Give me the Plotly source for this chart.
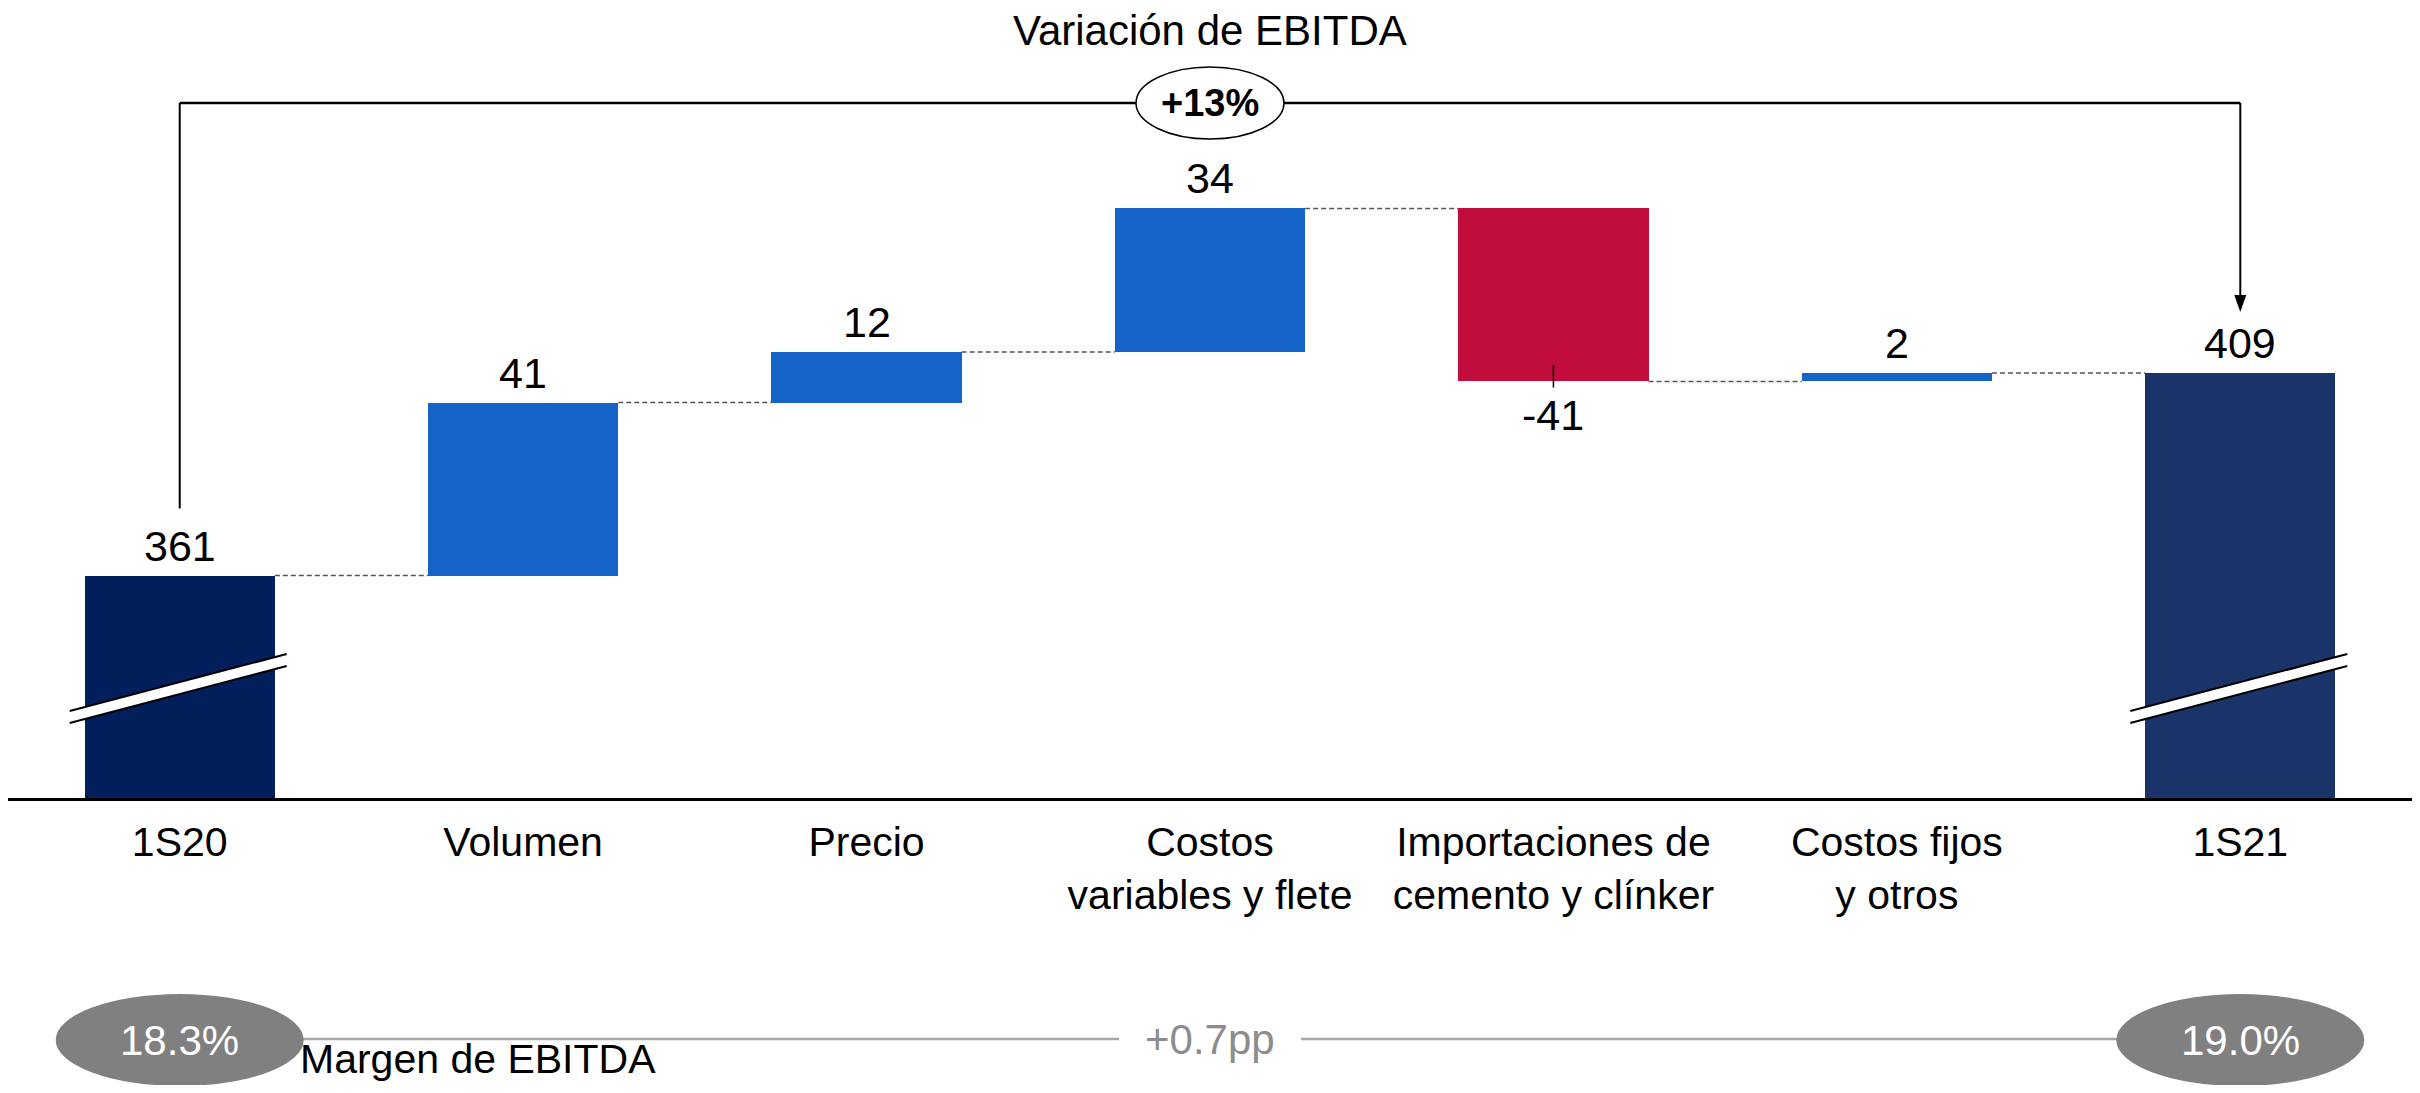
import plotly.graph_objects as go

# ---------------- data ----------------
CATEGORIES = ["1S20", "Volumen", "Precio", "Costos<br>variables y flete",
              "Importaciones de<br>cemento y clínker", "Costos fijos<br>y otros", "1S21"]
START_VALUE = 361
STEP_VALUES = [41, 12, 34, -41, 2]
END_VALUE = 409
VALUE_LABELS = ["361", "41", "12", "34", "-41", "2", "409"]
TITLE = "Variación de EBITDA"
GROWTH_LABEL = "+13%"
MARGIN_START = "18.3%"
MARGIN_END = "19.0%"
MARGIN_DELTA = "+0.7pp"
MARGIN_LABEL = "Margen de EBITDA"

# ---------------- style / layout ----------------
FONT = "Liberation Sans, Arial, sans-serif"
C_START = "#021F5C"
C_END = "#1A3369"
C_UP = "#1464C8"
C_DOWN = "#C00D3C"
C_GREY = "#808080"

PAGE_OFF = 8                      # default body margin of the html page
W, H = 2404, 1077
ML, MR, MT = 0, 0, 0
BASE_PAGE_Y = 798                 # page row of the x axis line
PLOT_H = BASE_PAGE_Y - PAGE_OFF - MT
MB = H - MT - PLOT_H
PX_PER_UNIT = 4.22
UNIT_PER_PX = 1 / PX_PER_UNIT
Y_MIN = 308.3                     # truncated value axis
Y_MAX = Y_MIN + PLOT_H * UNIT_PER_PX
BAR_W = 0.554


def y_from_px(py):
    """data y for a page pixel row inside the plot area"""
    return Y_MIN + (BASE_PAGE_Y - py) * UNIT_PER_PX


def paper_from_px(py):
    return (BASE_PAGE_Y - py) / PLOT_H


# ---------------- build bars ----------------
n = len(CATEGORIES)
xs = list(range(n))
bases = [Y_MIN]
heights = [START_VALUE - Y_MIN]
colors = [C_START]
levels = [START_VALUE]
cum = START_VALUE
for s in STEP_VALUES:
    bases.append(cum)
    heights.append(s)
    colors.append(C_UP if s >= 0 else C_DOWN)
    cum += s
    levels.append(cum)
bases.append(Y_MIN)
heights.append(END_VALUE - Y_MIN)
colors.append(C_END)

fig = go.Figure()
fig.add_trace(go.Bar(x=xs, y=heights, base=bases, width=BAR_W,
                     marker=dict(color=colors, line=dict(width=0)),
                     hoverinfo="skip", showlegend=False))

# connectors
cx, cy = [], []
for i, lv in enumerate(levels):
    cx += [i + BAR_W / 2, i + 1 - BAR_W / 2, None]
    cy += [lv, lv, None]
fig.add_trace(go.Scatter(x=cx, y=cy, mode="lines",
                         line=dict(color="#555555", width=1.5, dash="5px,3px"),
                         hoverinfo="skip", showlegend=False))

annotations = []
shapes = []

# value labels
for i in range(n):
    top = bases[i] + heights[i]
    neg = heights[i] < 0 and 0 < i < n - 1
    annotations.append(dict(x=i, y=top, xref="x", yref="y", text=VALUE_LABELS[i],
                            showarrow=False, yanchor="middle", xanchor="center",
                            yshift=(-34 if neg else 30),
                            font=dict(family=FONT, size=43, color="black")))
    if neg:
        shapes.append(dict(type="line", xref="x", yref="y", x0=i, x1=i,
                           ysizemode="pixel", yanchor=top, y0=-6, y1=16,
                           line=dict(color="black", width=1.5), layer="above"))

# axis break marks on the two total bars
for i in (0, n - 1):
    shapes.append(dict(type="path", xref="x", yref="y", xsizemode="pixel", ysizemode="pixel",
                       xanchor=i, yanchor=Y_MIN,
                       path="M-110,75 L107,132 L107,144 L-110,87 Z",
                       fillcolor="white", line=dict(width=0), layer="above"))
    for p in ("M-110,75 L107,132", "M-110,87 L107,144"):
        shapes.append(dict(type="path", xref="x", yref="y", xsizemode="pixel", ysizemode="pixel",
                           xanchor=i, yanchor=Y_MIN, path=p,
                           line=dict(color="black", width=2), layer="above"))

# growth bracket
BR_Y = y_from_px(103)
left_end = START_VALUE + 67 * UNIT_PER_PX
tip = END_VALUE + 61 * UNIT_PER_PX
shapes.append(dict(type="line", xref="x", yref="y", x0=0, x1=n - 1, y0=BR_Y, y1=BR_Y,
                   line=dict(color="black", width=2.5), layer="above"))
shapes.append(dict(type="line", xref="x", yref="y", x0=0, x1=0, y0=BR_Y, y1=left_end,
                   line=dict(color="black", width=2), layer="above"))
shapes.append(dict(type="line", xref="x", yref="y", x0=n - 1, x1=n - 1, y0=BR_Y,
                   y1=tip + 15 * UNIT_PER_PX,
                   line=dict(color="black", width=2), layer="above"))
shapes.append(dict(type="path", xref="x", yref="y", xsizemode="pixel", ysizemode="pixel",
                   xanchor=n - 1, yanchor=tip, path="M-6,17 L6,17 L0,0 Z",
                   fillcolor="black", line=dict(width=0), layer="above"))
mid = (n - 1) / 2
shapes.append(dict(type="circle", xref="x", yref="y", xsizemode="pixel", ysizemode="pixel",
                   xanchor=mid, yanchor=BR_Y, x0=-74, x1=74, y0=-36, y1=36,
                   fillcolor="white", line=dict(color="black", width=1.5), layer="above"))
annotations.append(dict(x=mid, y=BR_Y, xref="x", yref="y", text="<b>" + GROWTH_LABEL + "</b>",
                        showarrow=False, xanchor="center", yanchor="middle",
                        font=dict(family=FONT, size=38, color="black")))

# title
annotations.append(dict(x=mid, y=y_from_px(30), xref="x", yref="y", text=TITLE,
                        showarrow=False, xanchor="center", yanchor="middle",
                        font=dict(family=FONT, size=42, color="black")))

# margin row
MY = paper_from_px(1039)
EY = paper_from_px(1040)
shapes.append(dict(type="line", xref="x", yref="paper", x0=0, x1=n - 1, y0=MY, y1=MY,
                   line=dict(color="#A6A6A6", width=2.5), layer="above"))
for i, txt in ((0, MARGIN_START), (n - 1, MARGIN_END)):
    shapes.append(dict(type="circle", xref="x", yref="paper", xsizemode="pixel", ysizemode="pixel",
                       xanchor=i, yanchor=EY, x0=-124, x1=124, y0=-46, y1=46,
                       fillcolor=C_GREY, line=dict(width=0), layer="above"))
    annotations.append(dict(x=i, y=EY, xref="x", yref="paper", text=txt,
                            showarrow=False, xanchor="center", yanchor="middle",
                            font=dict(family=FONT, size=42, color="white")))
annotations.append(dict(x=mid, y=MY, xref="x", yref="paper", text=MARGIN_DELTA,
                        showarrow=False, xanchor="center", yanchor="middle",
                        bgcolor="white", borderpad=26, borderwidth=0,
                        font=dict(family=FONT, size=42, color="#8C8C8C")))
annotations.append(dict(x=0, y=paper_from_px(1059), xref="x", yref="paper", text=MARGIN_LABEL,
                        showarrow=False, xanchor="left", yanchor="middle", xshift=120,
                        borderpad=0, borderwidth=0,
                        font=dict(family=FONT, size=41, color="black")))

fig.update_layout(
    width=W, height=H,
    margin=dict(l=ML, r=MR, t=MT, b=MB, pad=0),
    paper_bgcolor="white", plot_bgcolor="white",
    bargap=0, showlegend=False,
    font=dict(family=FONT, color="black"),
    xaxis=dict(range=[-0.5, n - 0.5], tickmode="array", tickvals=xs, ticktext=CATEGORIES,
               showgrid=False, zeroline=False, showline=True, linecolor="black", linewidth=2.5,
               ticks="", ticklabelstandoff=6,
               tickfont=dict(family=FONT, size=41, color="black"), fixedrange=True),
    yaxis=dict(range=[Y_MIN, Y_MAX], visible=False, showgrid=False, zeroline=False,
               fixedrange=True),
    shapes=shapes, annotations=annotations,
)

fig.write_html("out.html")
